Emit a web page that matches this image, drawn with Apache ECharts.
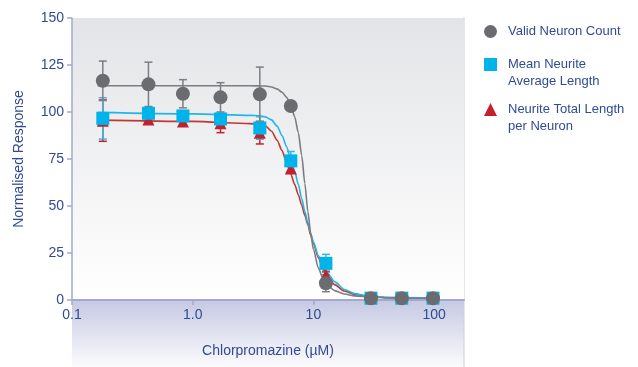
<!DOCTYPE html>
<html>
<head>
<meta charset="utf-8">
<script src="https://cdn.jsdelivr.net/npm/echarts@6/dist/echarts.min.js"></script>
<style>
html,body{margin:0;padding:0;background:#fff;}
#chart{width:638px;height:367px;}
</style>
</head>
<body>
<div id="chart"></div>
<script>
// ---- data ----
var concentrations = [0.18, 0.43, 0.83, 1.7, 3.6, 6.5, 12.7, 30, 54, 98];
var neuronCount     = [116.6, 114.7, 109.7, 107.8, 109.4, 103.2, 8.9, 0.9, 0.9, 0.9];
var neuronCountErr  = [10.5, 11.8, 7.5, 7.8, 14.5, 0, 4.5, 0, 0, 0];
var meanLength      = [96.6, 99.3, 97.9, 96.3, 91.5, 74.0, 19.5, 1.0, 1.0, 1.0];
var meanLengthErr   = [11.0, 3.0, 2.0, 3.0, 6.0, 5.0, 4.8, 0, 0, 0];
var totalLength     = [95.4, 96.0, 95.0, 94.0, 89.0, 70.0, 13.3, 0.9, 0.9, 0.9];
var totalLengthErr  = [11.0, 1.5, 2.0, 5.0, 6.0, 2.0, 2.0, 0, 0, 0];

// fitted curves
var neuronCountCurve = [[0.163,114],[1,114],[3,114],[4,113.8],[4.5,113.3],[5,112.3],[5.5,110.5],[6,107.8],[6.5,103.5],[7,97.5],[7.5,89],[8,77],[8.5,62],[9,47],[9.5,35.5],[10,27],[11,17],[12,11.5],[13,8],[15,5],[18,3.2],[22,2.2],[30,1.5],[50,1.0],[112,0.8]];
var meanLengthCurve  = [[0.163,99.8],[1,99],[3,98.2],[3.6,98],[4,97.4],[4.5,95.8],[5,92.5],[5.5,87.5],[6,81.5],[6.5,75],[7,68.5],[7.5,61.5],[8,54],[8.5,47],[9,41],[9.5,35.5],[10,31],[11,23.5],[12,18.5],[13,14.5],[15,9.8],[18,5.6],[22,3.4],[28,2.2],[40,1.4],[112,1]];
var totalLengthCurve = [[0.163,95.7],[1,95],[3,93.8],[3.75,93.3],[4,92.6],[4.5,89.8],[5,85],[5.5,79.5],[6,73],[6.5,67],[7,61.5],[7.5,56],[8,50.5],[8.5,45],[9,40],[9.5,34.5],[10,30],[11,22.5],[12,16.8],[13,12.8],[15,8.2],[18,4.8],[22,3],[28,2],[40,1.2],[112,0.9]];

var seriesNames = ['Valid Neuron Count', 'Mean Neurite\nAverage Length', 'Neurite Total Length\nper Neuron'];
var xTickValues = [0.1, 1, 10, 100];
var xTickLabels = ['0.1', '1.0', '10', '100'];
var yMin = 0, yMax = 150, yStep = 25;
var xMin = 0.1, xMax = 177;

var C_GRAY = '#6b6c6f', C_GRAY_LINE = '#7c7d80';
var C_BLUE = '#00b3ea', C_BLUE_LINE = '#22b5e8';
var C_RED = '#c3202d', C_RED_LINE = '#c2382f';
var C_TEXT = '#2f4b93';
var C_AXIS = '#a3a8d0';
var FONT = '"Liberation Sans", Arial, sans-serif';

function points(ys) { return concentrations.map(function (c, i) { return [c, ys[i]]; }); }
function errPoints(ys, es) { return concentrations.map(function (c, i) { return [c, ys[i], es[i]]; }); }

function errorSeries(name, ys, es, color, z) {
  return {
    type: 'custom', name: name + '_err', z: z, silent: true,
    data: errPoints(ys, es),
    renderItem: function (params, api) {
      var x = api.value(0), y = api.value(1), e = api.value(2);
      if (!e) return null;
      var t = api.coord([x, y + e]), b = api.coord([x, Math.max(y - e, 0.0001)]);
      var hw = 4;
      var st = { stroke: color, lineWidth: 1.5 };
      return { type: 'group', children: [
        { type: 'line', shape: { x1: t[0], y1: t[1], x2: b[0], y2: b[1] }, style: st },
        { type: 'line', shape: { x1: t[0] - hw, y1: t[1], x2: t[0] + hw, y2: t[1] }, style: st },
        { type: 'line', shape: { x1: b[0] - hw, y1: b[1], x2: b[0] + hw, y2: b[1] }, style: st }
      ]};
    }
  };
}

function curveSeries(name, data, color, z) {
  return { type: 'line', name: name + '_fit', data: data, showSymbol: false, smooth: 0.25, smoothMonotone: 'x',
    lineStyle: { color: color, width: 1.6 }, z: z, silent: true };
}

function legendFor(name, icon, color, top, twoLine) {
  return {
    data: [{ name: name, icon: icon, itemStyle: { color: color } }],
    orient: 'vertical', left: 484, top: top, padding: 0,
    itemWidth: 13, itemHeight: 13, selectedMode: false,
    formatter: function (n) { return twoLine ? '\n' + n : n; },
    textStyle: { color: C_TEXT, fontSize: 13, fontFamily: FONT, lineHeight: 17, padding: [0, 0, 0, 6] }
  };
}

var chart = echarts.init(document.getElementById('chart'));
chart.setOption({
  animation: false,
  backgroundColor: '#ffffff',
  grid: { left: 72, right: 174, top: 18, bottom: 67, show: true, borderWidth: 0,
    backgroundColor: new echarts.graphic.LinearGradient(0, 0, 0, 1, [
      { offset: 0, color: '#e3e4e7' }, { offset: 1, color: '#ffffff' }]) },
  graphic: [
    { type: 'rect', left: 72, top: 300, shape: { width: 392, height: 67 }, z: -1,
      style: { fill: new echarts.graphic.LinearGradient(0, 0, 0, 1, [
        { offset: 0, color: '#c5c9e3' }, { offset: 1, color: '#fbfbfd' }]) } },
    { type: 'line', shape: { x1: 464, y1: 17, x2: 464, y2: 367 }, z: -1,
      style: { stroke: '#cfd0d6', lineWidth: 1 } }
  ],
  legend: [
    legendFor(seriesNames[0], 'circle', C_GRAY, 23, false),
    legendFor(seriesNames[1], 'rect', C_BLUE, 39, true),
    legendFor(seriesNames[2], 'triangle', C_RED, 84, true)
  ],
  xAxis: {
    type: 'log', logBase: 10, min: xMin, max: xMax,
    name: 'Chlorpromazine (µM)', nameLocation: 'middle', nameGap: 44,
    nameTextStyle: { color: C_TEXT, fontSize: 14, fontFamily: FONT },
    axisLine: { lineStyle: { color: C_AXIS, width: 2 } },
    axisTick: { length: 5, lineStyle: { color: C_AXIS, width: 1.5 } },
    splitLine: { show: false },
    axisLabel: { color: C_TEXT, fontSize: 14, fontFamily: FONT, margin: 8, showMaxLabel: false,
      formatter: function (v) {
        for (var i = 0; i < xTickValues.length; i++) {
          if (Math.abs(Math.log10(v) - Math.log10(xTickValues[i])) < 1e-6) return xTickLabels[i];
        }
        return '';
      } }
  },
  yAxis: {
    type: 'value', min: yMin, max: yMax, interval: yStep,
    name: 'Normalised Response', nameLocation: 'middle', nameGap: 46, nameRotate: 90,
    nameTextStyle: { color: C_TEXT, fontSize: 14, fontFamily: FONT },
    axisLine: { show: true, lineStyle: { color: C_AXIS, width: 1.5 } },
    axisTick: { show: true, length: 5, lineStyle: { color: C_AXIS, width: 1.5 } },
    splitLine: { show: false },
    axisLabel: { color: C_TEXT, fontSize: 14, fontFamily: FONT, margin: 8 }
  },
  series: [
    curveSeries('red', totalLengthCurve, C_RED_LINE, 2),
    curveSeries('blue', meanLengthCurve, C_BLUE_LINE, 2),
    curveSeries('gray', neuronCountCurve, C_GRAY_LINE, 2),
    errorSeries('red', totalLength, totalLengthErr, C_RED, 3),
    errorSeries('blue', meanLength, meanLengthErr, '#3bb6df', 3),
    errorSeries('gray', neuronCount, neuronCountErr, '#7d7e81', 3),
    { type: 'scatter', name: seriesNames[2], data: points(totalLength), symbol: 'triangle', symbolSize: 12,
      itemStyle: { color: C_RED, opacity: 1 }, z: 4 },
    { type: 'scatter', name: seriesNames[1], data: points(meanLength), symbol: 'rect', symbolSize: 13,
      itemStyle: { color: C_BLUE, opacity: 1 }, z: 5 },
    { type: 'scatter', name: seriesNames[0], data: points(neuronCount), symbol: 'circle', symbolSize: 14,
      itemStyle: { color: C_GRAY, opacity: 1 }, z: 6 }
  ]
});
</script>
</body>
</html>
